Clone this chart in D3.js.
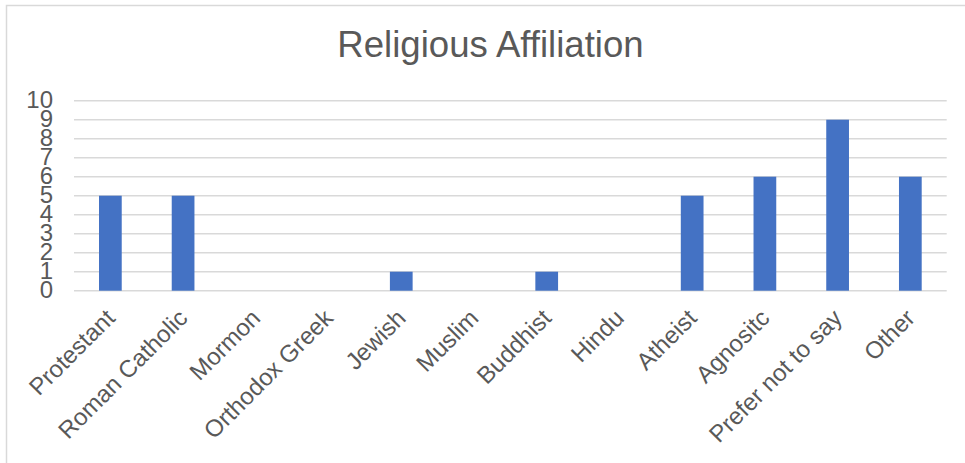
<!DOCTYPE html>
<html>
<head>
<meta charset="utf-8">
<script src="https://cdn.jsdelivr.net/npm/d3@7/dist/d3.min.js"></script>
<style>
  html, body { margin: 0; padding: 0; background: #ffffff; }
  svg { display: block; }
  text { font-family: "Liberation Sans", Arial, sans-serif; fill: #595959; }
</style>
</head>
<body>
<svg id="chart" width="965" height="463"></svg>
<script>
// Survey responses by religious affiliation
const categories = ["Protestant", "Roman Catholic", "Mormon", "Orthodox Greek", "Jewish",
  "Muslim", "Buddhist", "Hindu", "Atheist", "Agnositc", "Prefer not to say", "Other"];
const counts = [5, 5, 0, 0, 1, 0, 1, 0, 5, 6, 9, 6];
const yTicks = [0, 1, 2, 3, 4, 5, 6, 7, 8, 9, 10];
const chartTitle = "Religious Affiliation";

const svg = d3.select("#chart");
const W = 965, H = 463;
const plot = { left: 74, right: 946.7, top: 100.7, bottom: 290.7 };

// outer frame (only top and left edges fall inside the view)
svg.append("rect")
  .attr("x", 6.5).attr("y", 5.5)
  .attr("width", W + 20).attr("height", H + 20)
  .attr("fill", "none").attr("stroke", "#d9d9d9").attr("stroke-width", 1.5);

svg.append("text")
  .attr("x", 490.5).attr("y", 57)
  .attr("text-anchor", "middle")
  .style("font-size", "36.6px")
  .text(chartTitle);

const x = d3.scaleBand().domain(categories).range([plot.left, plot.right]).padding(0);
const y = d3.scaleLinear().domain([0, 10]).range([plot.bottom, plot.top]);
const barW = x.bandwidth() * 0.3125;

// horizontal gridlines
svg.append("g").selectAll("line").data(yTicks).join("line")
  .attr("x1", plot.left).attr("x2", plot.right)
  .attr("y1", d => y(d)).attr("y2", d => y(d))
  .attr("stroke", "#d9d9d9").attr("stroke-width", 1.5);

// y axis labels
const yAxis = d3.axisLeft(y).tickValues(yTicks).tickSize(0).tickPadding(0);
const gy = svg.append("g").attr("transform", "translate(53,0)").call(yAxis);
gy.select(".domain").remove();
gy.selectAll("text")
  .attr("x", 0).attr("dy", null).attr("y", 6.5)
  .attr("fill", "#595959")
  .style("font-size", "24px")
  .style("font-family", "'Liberation Sans', Arial, sans-serif");

// bars
svg.append("g").selectAll("rect").data(categories).join("rect")
  .attr("x", (d) => x(d) + (x.bandwidth() - barW) / 2)
  .attr("width", barW)
  .attr("y", (d, i) => y(counts[i]))
  .attr("height", (d, i) => y(0) - y(counts[i]))
  .attr("fill", "#4472c4");

// category labels, rotated
const xAxis = d3.axisBottom(x).tickSize(0).tickPadding(0);
const gx = svg.append("g").call(xAxis);
gx.select(".domain").remove();
gx.selectAll(".tick text")
  .attr("x", 0).attr("y", 0).attr("dy", null)
  .attr("text-anchor", "end")
  .attr("transform", "translate(6,319.5) rotate(-45)")
  .attr("fill", "#595959")
  .style("font-size", "24px")
  .style("font-family", "'Liberation Sans', Arial, sans-serif");
</script>
</body>
</html>
